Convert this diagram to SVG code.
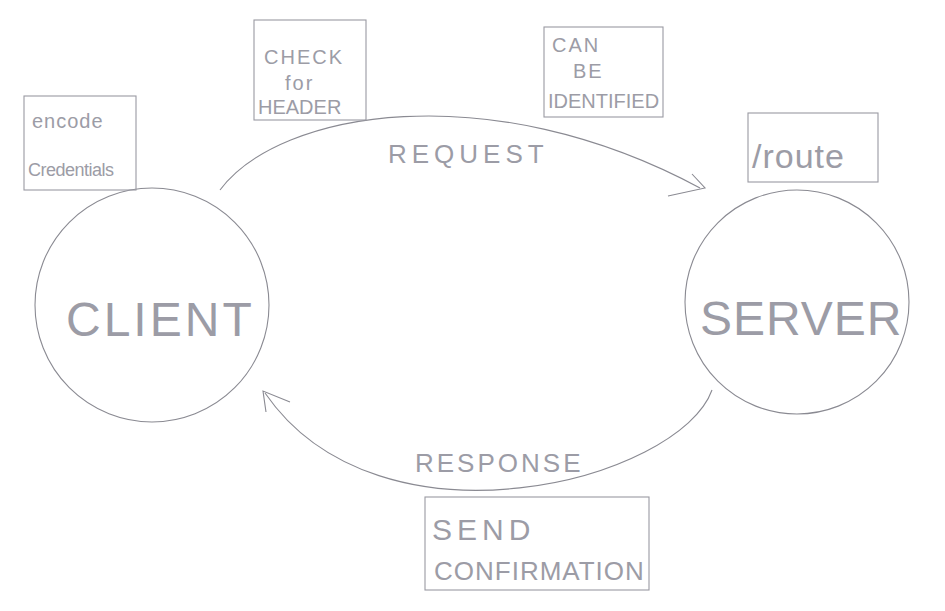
<svg xmlns="http://www.w3.org/2000/svg" width="945" height="611" viewBox="0 0 945 611">
<style>
.shape{fill:none;stroke:#8a8a92;stroke-width:1.1}
.box{fill:none;stroke:#9a9aa2;stroke-width:1.1}
.t{font-family:"Liberation Sans",Arial,sans-serif;fill:#9c9ca6;letter-spacing:2px}
.big{font-size:48px;letter-spacing:3px}
.mid{font-size:26px;letter-spacing:5px}
.sm{font-size:20px}
</style>
<rect width="945" height="611" fill="#ffffff"/>
<g id="connectors">
  <path class="shape" d="M220 190 C 280 110, 490 75, 700 188"/>
  <path class="shape" d="M692 174 L705 188 L668 196"/>
  <path class="shape" d="M712 390 C 680 480, 380 560, 265 393"/>
  <path class="shape" d="M266 412 L263 391 L290 402"/>
</g>
<g id="client">
  <circle class="shape" cx="152" cy="305" r="117"/>
  <text class="t big" x="66" y="336">CLIENT</text>
</g>
<g id="server">
  <circle class="shape" cx="797" cy="302" r="112"/>
  <text class="t big" x="700" y="335" style="letter-spacing:1px">SERVER</text>
</g>
<g id="label-request">
  <text class="t mid" x="388" y="163">REQUEST</text>
</g>
<g id="label-response">
  <text class="t mid" x="415" y="472" style="letter-spacing:3px">RESPONSE</text>
</g>
<g id="note-encode">
  <rect class="box" x="24" y="96" width="112" height="94"/>
  <text class="t sm" x="32" y="128" style="letter-spacing:1px">encode</text>
  <text class="t sm" x="28" y="176" style="font-size:18px;letter-spacing:-0.5px">Credentials</text>
</g>
<g id="note-check">
  <rect class="box" x="254" y="20" width="112" height="100"/>
  <text class="t sm" x="264" y="64">CHECK</text>
  <text class="t sm" x="285" y="90">for</text>
  <text class="t sm" x="258" y="114" style="letter-spacing:0px">HEADER</text>
</g>
<g id="note-identified">
  <rect class="box" x="544" y="27" width="119" height="90"/>
  <text class="t sm" x="552" y="52">CAN</text>
  <text class="t sm" x="573" y="78">BE</text>
  <text class="t sm" x="548" y="108" style="letter-spacing:0px">IDENTIFIED</text>
</g>
<g id="note-route">
  <rect class="box" x="748" y="113" width="130" height="69"/>
  <text class="t" x="752" y="168" style="font-size:34px;letter-spacing:1px">/route</text>
</g>
<g id="note-confirmation">
  <rect class="box" x="425" y="497" width="224" height="93"/>
  <text class="t mid" x="432" y="540" style="font-size:30px">SEND</text>
  <text class="t mid" x="434" y="580" style="letter-spacing:1px">CONFIRMATION</text>
</g>
</svg>
